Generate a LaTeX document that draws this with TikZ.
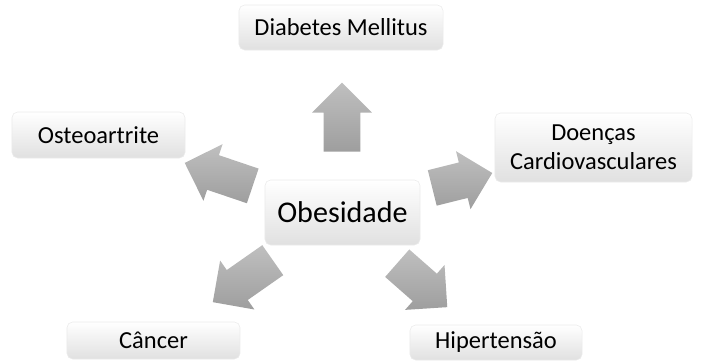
\documentclass[tikz,border=0pt]{standalone}
\usepackage{fontspec}
\setmainfont{Carlito}
\usetikzlibrary{shapes.arrows}

\tikzset{
  box/.style = {draw=black!8, rounded corners=4pt, top color=white, bottom color=black!12,
                inner sep=0pt, align=center, font=\fontsize{17.4}{20.6}\selectfont},
  blockarrow/.style = {single arrow, draw=none, inner xsep=0pt, inner ysep=0.45cm, anchor=tail,
                single arrow head extend=0.29cm, top color=black!25, bottom color=black!38}
}

\begin{document}
\begin{tikzpicture}[x=0.025cm, y=-0.025cm]
        \useasboundingbox (0,0) rectangle (701,362);

        \node[box, minimum width=5.1cm, minimum height=1.125cm] (dm) at (341, 27.5) {Diabetes Mellitus};
        \node[box, minimum width=3.875cm, minimum height=1.625cm, font=\fontsize{21.4}{24}\selectfont] (ob) at (342.5, 212.5) {Obesidade};
        \node[box, minimum width=4.325cm, minimum height=1.15cm] (os) at (98.5, 135) {Osteoartrite};
        \node[box, minimum width=4.925cm, minimum height=1.725cm] (dc) at (593.5, 147.5) {Doenças\\Cardiovasculares};
        \node[box, minimum width=4.325cm, minimum height=0.925cm] (ca) at (153.5, 340.5) {Câncer};
        \node[box, minimum width=4.3cm, minimum height=0.875cm] (hi) at (496, 342.5) {Hipertensão};

        \node[blockarrow, minimum height=1.725cm, rotate=90] (a1) at (342, 152) {};
        \node[blockarrow, minimum height=1.795cm, rotate=161.3] (a2) at (253, 186) {};
        \node[blockarrow, minimum height=1.545cm, rotate=14] (a3) at (432, 188) {};
        \node[blockarrow, minimum height=1.83cm, rotate=215] (a4) at (273, 260) {};
        \node[blockarrow, minimum height=1.665cm, rotate=-41.3] (a5) at (397, 263) {};
\end{tikzpicture}
\end{document}
